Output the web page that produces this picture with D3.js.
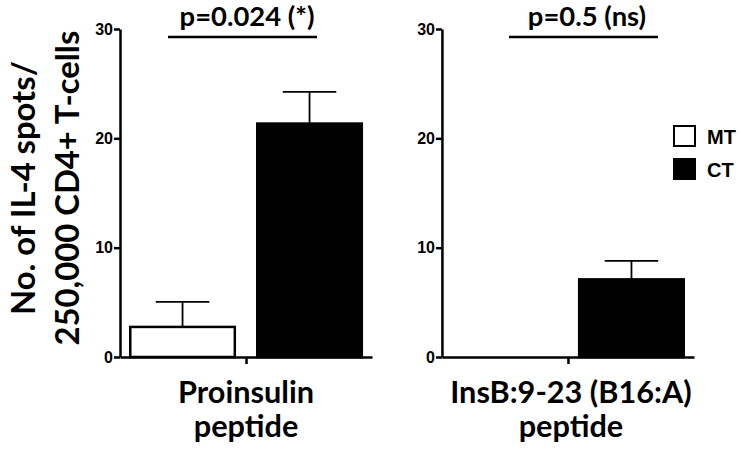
<!DOCTYPE html>
<html>
<head>
<meta charset="utf-8">
<script src="https://cdn.jsdelivr.net/npm/d3@7"></script>
<style>
  body { margin: 0; background: #fff; }
  svg { display: block; }
  .lbl { font-family: Lato, 'Open Sans', sans-serif; font-weight: bold; fill: #000; }
  .axis text { font-family: 'Liberation Sans', Arial, sans-serif; font-weight: bold; font-size: 16px; fill: #000; }
  .axis path, .axis line { stroke: #000; stroke-width: 2.5; }
</style>
</head>
<body>
<div id="chart"></div>
<script>
// data
const groups = ['Proinsulin|peptide', 'InsB:9-23 (B16:A)|peptide']
const series = ['MT', 'CT']
const meanMT = [2.75, 0]
const meanCT = [21.35, 7.1]
const semMT = [2.3, 0]
const semCT = [2.9, 1.7]
const pLabels = ['p=0.024 (*)', 'p=0.5 (ns)']
const yTicks = [0, 10, 20, 30]
const yLabel = ['No. of IL-4 spots/', '250,000 CD4+ T-cells']

const width = 741,
      height = 453

const svg = d3.select('#chart')
  .append('svg')
  .attr('width', width)
  .attr('height', height)

// panels side by side
const panel = d3.scaleBand()
  .domain(groups)
  .range([120, 694])
  .paddingInner(0.217)
  .paddingOuter(0)

const y = d3.scaleLinear()
  .domain([0, 30])
  .range([357, 29])

// font size that gives a text the wanted width
let fitSize = (sel, size, target) => {
  sel.style('font-size', size + 'px')
  const w = sel.node().getComputedTextLength()
  const s = size * target / w
  sel.style('font-size', s + 'px')
  return s
}

// bracket ends and label shift, relative to the panel centre
const bracket = [[-78, 71, 1], [-59, 90, 19]]
let pSize = null, catSize = null

groups.forEach((g, gi) => {
  const x0 = panel(g)
  const bw = panel.bandwidth()

  const x = d3.scaleBand()
    .domain(series)
    .range([x0, x0 + bw])
    .paddingInner(0.157)
    .paddingOuter(0.071)

  const rows = [
    { s: 'MT', v: meanMT[gi], e: semMT[gi] },
    { s: 'CT', v: meanCT[gi], e: semCT[gi] }
  ]

  const gp = svg.append('g')

  // error bars first, bars cover the lower half
  rows.filter(d => d.e > 0).forEach(d => {
    const cx = x(d.s) + x.bandwidth() / 2
    const cap = x.bandwidth() / 4
    gp.append('line')
      .attr('x1', cx).attr('x2', cx)
      .attr('y1', y(d.v)).attr('y2', y(d.v + d.e))
      .attr('stroke', '#000').attr('stroke-width', 1.8)
    gp.append('line')
      .attr('x1', cx - cap).attr('x2', cx + cap)
      .attr('y1', y(d.v + d.e)).attr('y2', y(d.v + d.e))
      .attr('stroke', '#000').attr('stroke-width', 1.8)
  })

  gp.selectAll('rect')
    .data(rows.filter(d => d.v > 0))
    .enter()
    .append('rect')
    .attr('x', d => x(d.s) + 1.25)
    .attr('y', d => y(d.v))
    .attr('width', x.bandwidth() - 2.5)
    .attr('height', d => y(0) - y(d.v))
    .attr('fill', d => d.s === 'MT' ? '#fff' : '#000')
    .attr('stroke', '#000')
    .attr('stroke-width', 2.5)

  // y axis
  svg.append('g')
    .attr('class', 'axis')
    .attr('transform', `translate(${x0},0)`)
    .call(d3.axisLeft(y)
      .tickValues(yTicks)
      .tickSize(6)
      .tickSizeOuter(0)
      .tickPadding(1))

  // x axis with one centre tick
  const xa = d3.scaleLinear().domain([0, 1]).range([x0, x0 + bw])
  svg.append('g')
    .attr('class', 'axis')
    .attr('transform', `translate(0,${y(0)})`)
    .call(d3.axisBottom(xa)
      .tickValues([0.5])
      .tickFormat('')
      .tickSize(7)
      .tickSizeOuter(0))

  // p value bracket
  const mid = x0 + bw / 2
  const b = bracket[gi]
  svg.append('line')
    .attr('x1', mid + b[0]).attr('x2', mid + b[1])
    .attr('y1', 37).attr('y2', 37)
    .attr('stroke', '#000').attr('stroke-width', 2.5)
  const pt = svg.append('text')
    .attr('class', 'lbl')
    .attr('x', mid + b[2])
    .attr('y', 26)
    .attr('text-anchor', 'middle')
    .text(pLabels[gi])
  if (pSize === null) pSize = fitSize(pt, 26, 135)
  else pt.style('font-size', pSize + 'px')

  // category label, two lines
  const parts = g.split('|')
  const cxl = mid + gi * 3
  const t1 = svg.append('text').attr('class', 'lbl')
    .attr('x', cxl).attr('y', 403).attr('text-anchor', 'middle').text(parts[0])
  if (catSize === null) catSize = fitSize(t1, 26, 136)
  else t1.style('font-size', catSize + 'px')
  svg.append('text').attr('class', 'lbl')
    .attr('x', cxl).attr('y', 437).attr('text-anchor', 'middle')
    .style('font-size', catSize + 'px')
    .text(parts[1])
})

// y title, both lines at one size
const yt = yLabel.map((l, i) => svg.append('text')
  .attr('class', 'lbl')
  .attr('transform', `translate(${35 + i * 44},188) rotate(-90)`)
  .attr('text-anchor', 'middle')
  .text(l))
const ySize = fitSize(yt[1], 30, 315)
yt[0].style('font-size', ySize + 'px')

// legend
const legend = svg.append('g').attr('transform', 'translate(673,125)')
series.forEach((s, i) => {
  legend.append('rect')
    .attr('x', 1).attr('y', i * 33 + 1)
    .attr('width', 21).attr('height', 20)
    .attr('fill', s === 'MT' ? '#fff' : '#000')
    .attr('stroke', '#000').attr('stroke-width', 2)
  legend.append('text')
    .attr('x', 34).attr('y', i * 33 + 19)
    .style('font-family', "'Liberation Sans', Arial, sans-serif")
    .style('font-weight', 'bold')
    .style('font-size', '20px')
    .text(s)
})
</script>
</body>
</html>
